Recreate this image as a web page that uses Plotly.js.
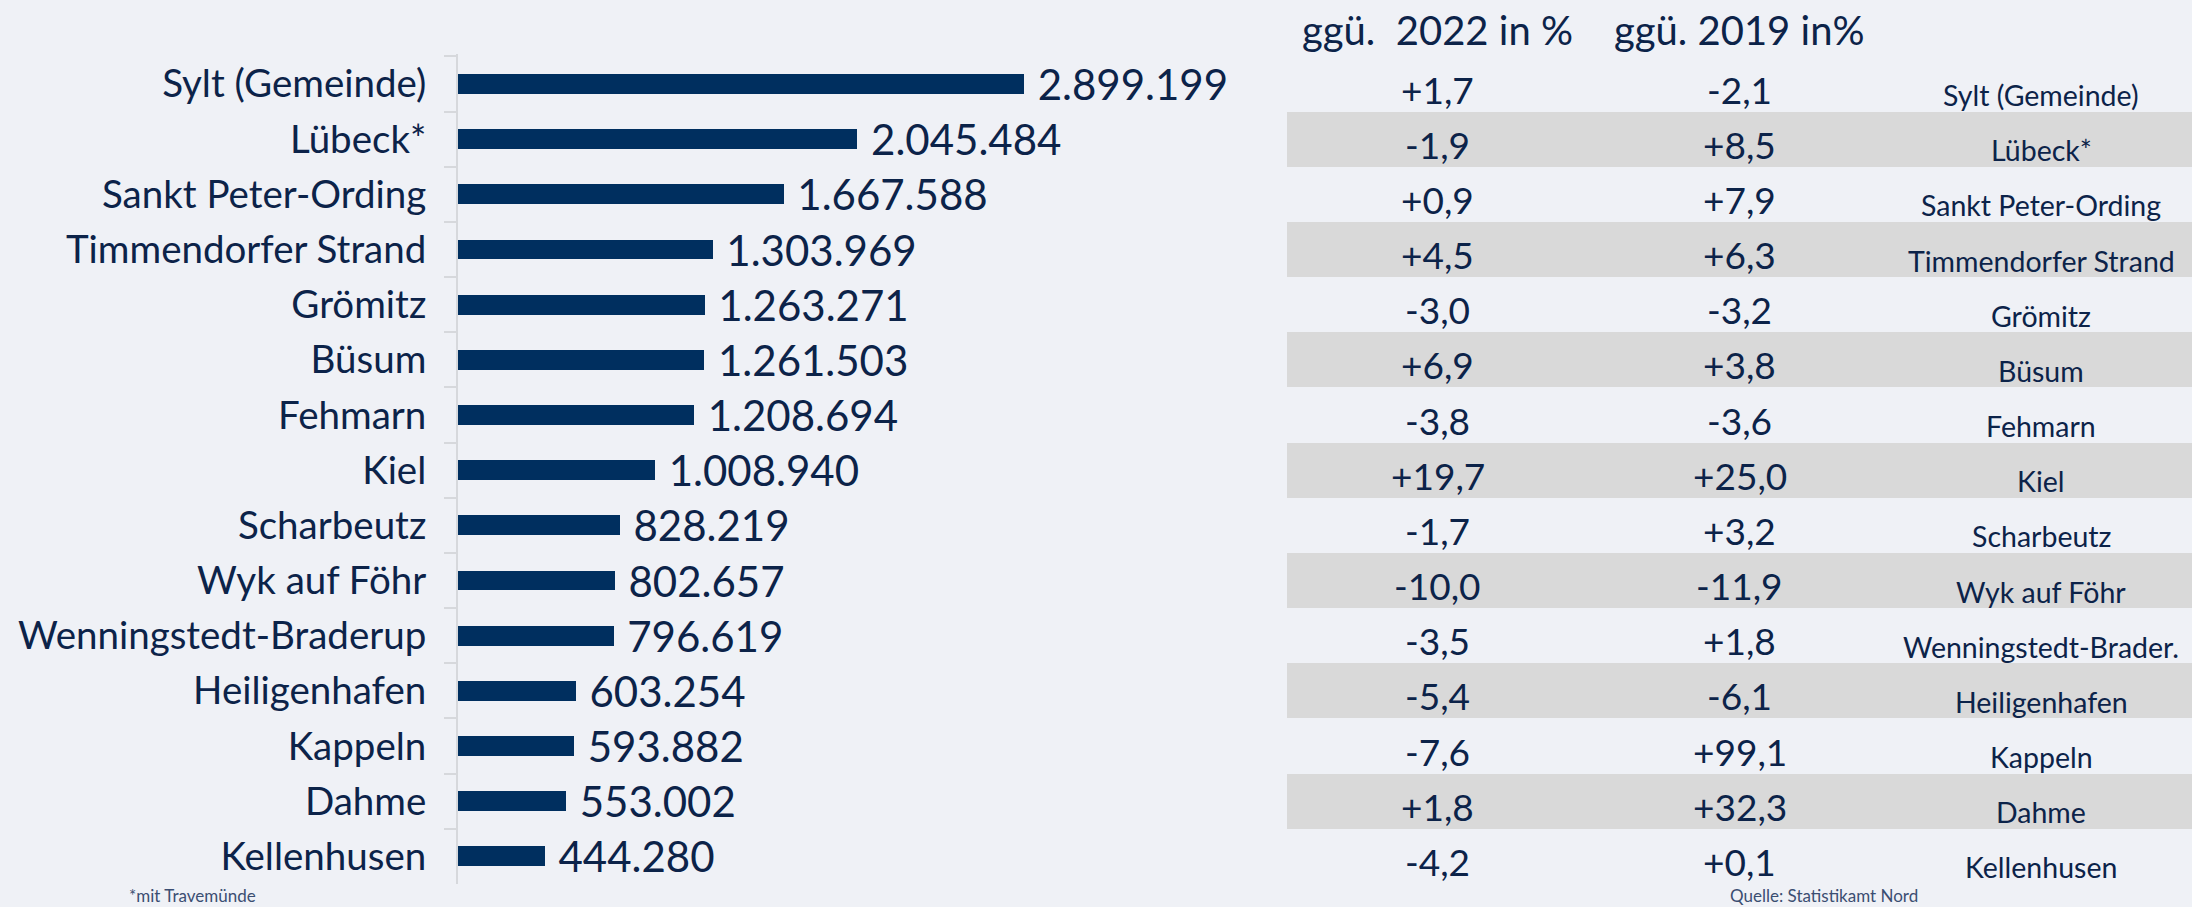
<!DOCTYPE html>
<html>
<head>
<meta charset="utf-8">
<script src="https://cdn.plot.ly/plotly-3.0.1.min.js"></script>
<style>
  html, body { margin: 0; padding: 0; background: #eff1f6; }
  #chart { width: 2192px; height: 907px; }
</style>
</head>
<body>
<div id="chart"></div>
<script>
// ---- Data ----
const towns = ["Sylt (Gemeinde)", "Lübeck*", "Sankt Peter-Ording", "Timmendorfer Strand",
  "Grömitz", "Büsum", "Fehmarn", "Kiel", "Scharbeutz", "Wyk auf Föhr",
  "Wenningstedt-Braderup", "Heiligenhafen", "Kappeln", "Dahme", "Kellenhusen"];
const overnightStays = [2899199, 2045484, 1667588, 1303969, 1263271, 1261503, 1208694,
  1008940, 828219, 802657, 796619, 603254, 593882, 553002, 444280];
const change2022 = ["+1,7", "-1,9", "+0,9", "+4,5", "-3,0", "+6,9", "-3,8", "+19,7",
  "-1,7", "-10,0", "-3,5", "-5,4", "-7,6", "+1,8", "-4,2"];
const change2019 = ["-2,1", "+8,5", "+7,9", "+6,3", "-3,2", "+3,8", "-3,6", "+25,0",
  "+3,2", "-11,9", "+1,8", "-6,1", "+99,1", "+32,3", "+0,1"];
const tableNames = ["Sylt (Gemeinde)", "Lübeck*", "Sankt Peter-Ording", "Timmendorfer Strand",
  "Grömitz", "Büsum", "Fehmarn", "Kiel", "Scharbeutz", "Wyk auf Föhr",
  "Wenningstedt-Brader.", "Heiligenhafen", "Kappeln", "Dahme", "Kellenhusen"];
const tableHeaders = ["ggü.\u00a0\u00a02022 in %", "ggü. 2019 in%"];
const footnote = "*mit Travemünde";
const source = "Quelle: Statistikamt Nord";

// ---- Styles ----
const NAVY = "#0c2349";
const BAR = "#002f5f";
const FONT = "Lato, 'Open Sans', sans-serif";

// striped rows (every second row)
const bandTowns = towns.filter((t, i) => i % 2 === 1);

const traces = [
  {
    type: "bar",
    orientation: "h",
    y: towns,
    x: overnightStays,
    xaxis: "x",
    yaxis: "y",
    width: 0.36,
    marker: { color: BAR },
    texttemplate: " %{x:,}",
    textposition: "outside",
    constraintext: "none",
    cliponaxis: false,
    textfont: { family: FONT, size: 42, color: NAVY },
    hoverinfo: "skip"
  },
  {
    type: "bar",
    orientation: "h",
    y: bandTowns,
    x: bandTowns.map(() => 3),
    base: -0.5,
    width: 1,
    xaxis: "x2",
    yaxis: "y",
    marker: { color: "#d9d9d9", line: { width: 0 } },
    hoverinfo: "skip"
  }
];

const annotations = [];
const cols = [change2022, change2019];
cols.forEach((col, ci) => {
  col.forEach((v, i) => {
    annotations.push({
      xref: "x2", yref: "y", x: ci, y: towns[i], text: v, showarrow: false,
      xanchor: "center", yanchor: "middle", yshift: -5,
      font: { family: FONT, size: 37, color: NAVY }
    });
  });
});
tableNames.forEach((n, i) => {
  annotations.push({
    xref: "x2", yref: "y", x: 2, y: towns[i], text: n, showarrow: false,
    xanchor: "center", yanchor: "middle", yshift: -11,
    font: { family: FONT, size: 28.5, color: NAVY }
  });
});
tableHeaders.forEach((h, i) => {
  annotations.push({
    xref: "x2", yref: "paper", x: i, y: 1, text: h, showarrow: false,
    xanchor: "center", yanchor: "middle", yshift: 24,
    font: { family: FONT, size: 40, color: NAVY }
  });
});
annotations.push({
  xref: "paper", yref: "paper", x: -0.1909, y: 0, yshift: -11, text: footnote,
  showarrow: false, xanchor: "left", yanchor: "middle",
  font: { family: FONT, size: 17, color: "#3b4e72" }
});
annotations.push({
  xref: "paper", yref: "paper", x: 0.7324, y: 0, yshift: -11, text: source,
  showarrow: false, xanchor: "left", yanchor: "middle",
  font: { family: FONT, size: 17, color: "#3b4e72" }
});

const layout = {
  width: 2192,
  height: 907,
  margin: { l: 458, r: 0, t: 54, b: 23, pad: 0 },
  paper_bgcolor: "#eff1f6",
  plot_bgcolor: "rgba(0,0,0,0)",
  separators: ",.",
  showlegend: false,
  bargap: 0,
  barmode: "overlay",
  xaxis: {
    domain: [0, 0.4567],
    range: [0, 4057000],
    visible: false,
    fixedrange: true
  },
  xaxis2: {
    domain: [0.4781, 1],
    range: [-0.5, 2.5],
    anchor: "y",
    visible: false,
    fixedrange: true
  },
  yaxis: {
    type: "category",
    categoryorder: "array",
    categoryarray: towns,
    autorange: "reversed",
    showline: true,
    linecolor: "#d6d8dc",
    linewidth: 2,
    ticks: "outside",
    tickson: "boundaries",
    ticklen: 12,
    tickcolor: "#d6d8dc",
    tickwidth: 2,
    ticklabelstandoff: 22,
    showgrid: false,
    zeroline: false,
    tickfont: { family: FONT, size: 38.5, color: NAVY },
    fixedrange: true
  },
  annotations: annotations
};

Plotly.newPlot("chart", traces, layout, { staticPlot: true, displayModeBar: false });
</script>
</body>
</html>
